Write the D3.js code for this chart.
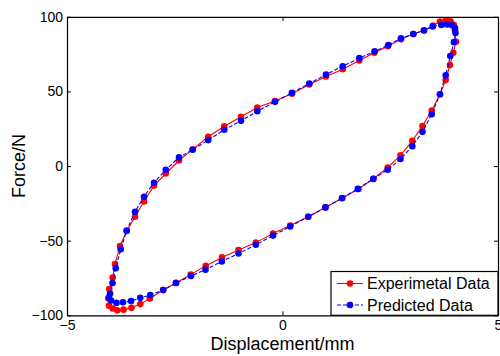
<!DOCTYPE html>
<html>
<head>
<meta charset="utf-8">
<script src="https://cdn.jsdelivr.net/npm/d3@7"></script>
<style>
  html, body { margin: 0; padding: 0; background: #fff; }
  svg { display: block; font-family: Arial, "Liberation Sans", sans-serif; }
</style>
</head>
<body>
<svg id="chart" width="500" height="356"></svg>
<script>
// Hysteresis loop: measured force vs displacement, and the model prediction
const expDisp = [-3.833, -3.940, -4.026, -4.042, -4.019, -3.940, -3.886, -3.770, -3.615, -3.422,
  -3.213, -2.981, -2.708, -2.401, -2.084, -1.724, -1.350, -0.963, -0.585, -0.174,
  0.220, 0.622, 1.009, 1.397, 1.782, 2.130, 2.443, 2.749, 3.035, 3.283,
  3.492, 3.654, 3.794, 3.898, 3.974, 4.002, 4.026, 3.963, 3.886, 3.787,
  3.654, 3.462, 3.248, 3.012, 2.738, 2.441, 2.111, 1.763, 1.385, 0.993,
  0.596, 0.179, -0.220, -0.619, -1.021, -1.404, -1.782, -2.128, -2.471, -2.768,
  -3.079, -3.299, -3.503, -3.689];
const expForce = [-96.7, -95.4, -93.6, -88.7, -82.4, -74.7, -65.7, -53.6, -43.6, -34.0,
  -23.7, -13.1, -5.0, 3.7, 11.2, 19.6, 26.7, 33.0, 39.2, 43.6,
  48.5, 54.6, 60.0, 64.9, 70.7, 75.9, 80.3, 84.9, 88.5, 91.0,
  94.2, 96.9, 97.7, 97.0, 94.6, 91.0, 83.3, 75.9, 67.7, 57.6,
  48.1, 37.2, 26.8, 16.9, 7.2, -1.0, -8.5, -15.4, -21.6, -27.7,
  -34.0, -39.9, -45.2, -51.3, -56.3, -61.2, -66.9, -72.7, -78.3, -83.0,
  -88.7, -92.5, -95.0, -96.2];

const predDisp = [-3.852, -3.979, -4.026, -4.002, -3.944, -3.870, -3.754, -3.615, -3.422, -3.213,
  -2.981, -2.708, -2.401, -2.084, -1.724, -1.350, -0.963, -0.585, -0.174, 0.220,
  0.622, 1.009, 1.397, 1.782, 2.139, 2.455, 2.749, 3.035, 3.283, 3.485,
  3.684, 3.817, 3.933, 4.002, 4.014, 3.979, 3.893, 3.787, 3.654, 3.462,
  3.248, 3.012, 2.738, 2.441, 2.107, 1.747, 1.381, 0.998, 0.596, 0.179,
  -0.220, -0.619, -1.021, -1.408, -1.787, -2.123, -2.471, -2.768, -3.067, -3.299,
  -3.515, -3.701];
const predForce = [-91.7, -90.1, -88.1, -85.5, -78.4, -68.4, -55.8, -43.2, -30.6, -20.6,
  -11.2, -2.5, 5.8, 10.9, 17.4, 24.3, 30.3, 36.7, 43.0, 49.1,
  55.3, 61.3, 66.9, 72.3, 76.9, 81.0, 85.6, 88.5, 90.8, 93.5,
  94.5, 94.8, 94.3, 92.4, 89.1, 83.0, 73.7, 60.8, 48.1, 34.7,
  22.9, 13.3, 4.7, -2.5, -8.6, -15.3, -21.4, -27.7, -34.0, -40.5,
  -46.6, -52.7, -58.6, -63.9, -69.4, -73.7, -78.4, -83.1, -86.5, -88.3,
  -90.5, -91.3];

const xTicks = [-5, 0, 5];
const yTicks = [-100, -50, 0, 50, 100];
const seriesNames = ["Experimetal Data", "Predicted Data"];
const xTitle = "Displacement/mm";
const yTitle = "Force/N";

const svg = d3.select("#chart");
const plot = { left: 67, right: 498, top: 16.8, bottom: 315.3 };

const x = d3.scaleLinear().domain([-5, 5]).range([plot.left, plot.right]);
const y = d3.scaleLinear().domain([-100, 100]).range([plot.bottom, plot.top]);

const series = [
  { name: seriesNames[0], xs: expDisp, ys: expForce, color: "#ff0000", dash: null },
  { name: seriesNames[1], xs: predDisp, ys: predForce, color: "#0000ff", dash: "4,2" }
];

// curves (closed loops)
const line = d3.line().x(d => x(d[0])).y(d => y(d[1])).curve(d3.curveLinearClosed);
series.forEach(s => {
  const pts = s.xs.map((v, i) => [v, s.ys[i]]);
  const g = svg.append("g");
  g.append("path")
    .attr("d", line(pts))
    .attr("fill", "none")
    .attr("stroke", s.color)
    .attr("stroke-width", 1.1)
    .attr("stroke-dasharray", s.dash);
  g.selectAll("circle").data(pts).join("circle")
    .attr("cx", d => x(d[0]))
    .attr("cy", d => y(d[1]))
    .attr("r", 3.3)
    .attr("fill", s.color);
});

// axes box with inward ticks
const tickFont = 14;
const axB = d3.axisBottom(x).tickValues(xTicks).tickSizeInner(-4).tickSizeOuter(0).tickPadding(5).tickFormat(d3.format("d"));
const axT = d3.axisTop(x).tickValues(xTicks).tickSizeInner(-4).tickSizeOuter(0).tickFormat("");
const axL = d3.axisLeft(y).tickValues(yTicks).tickSizeInner(-4).tickSizeOuter(0).tickPadding(4).tickFormat(d3.format("d"));
const axR = d3.axisRight(y).tickValues(yTicks).tickSizeInner(-4).tickSizeOuter(0).tickFormat("");

function styleAxis(g) {
  g.selectAll("path.domain").attr("stroke", "#000").attr("stroke-width", 1.2);
  g.selectAll(".tick line").attr("stroke", "#000").attr("stroke-width", 1);
  g.selectAll(".tick text").attr("fill", "#000").style("font-size", tickFont + "px")
    .style("font-family", "Arial, 'Liberation Sans', sans-serif");
}
svg.append("g").attr("transform", `translate(0,${plot.bottom})`).call(axB).call(styleAxis);
svg.append("g").attr("transform", `translate(0,${plot.top})`).call(axT).call(styleAxis);
svg.append("g").attr("transform", `translate(${plot.left},0)`).call(axL).call(styleAxis);
svg.append("g").attr("transform", `translate(${plot.right},0)`).call(axR).call(styleAxis);

// axis titles
svg.append("text")
  .attr("x", (plot.left + plot.right) / 2)
  .attr("y", 350)
  .attr("text-anchor", "middle")
  .style("font-size", "18px")
  .text(xTitle);
svg.append("text")
  .attr("transform", `translate(25,${(plot.top + plot.bottom) / 2}) rotate(-90)`)
  .attr("text-anchor", "middle")
  .style("font-size", "18px")
  .text(yTitle);

// legend
const lg = svg.append("g");
const lgBox = { x0: 331, y0: 271.5, x1: 498, y1: 315.3 };
lg.append("rect")
  .attr("x", lgBox.x0).attr("y", lgBox.y0)
  .attr("width", lgBox.x1 - lgBox.x0).attr("height", lgBox.y1 - lgBox.y0)
  .attr("fill", "#fff").attr("stroke", "#000").attr("stroke-width", 1.2);
series.forEach((s, i) => {
  const cy = 283.5 + i * 21.5;
  lg.append("line")
    .attr("x1", 337).attr("x2", 363).attr("y1", cy).attr("y2", cy)
    .attr("stroke", s.color).attr("stroke-width", 1.1)
    .attr("stroke-dasharray", s.dash);
  lg.append("circle").attr("cx", 350).attr("cy", cy).attr("r", 3.3).attr("fill", s.color);
  lg.append("text")
    .attr("x", 367).attr("y", cy).attr("dy", "0.36em")
    .style("font-size", "16px")
    .text(s.name);
});
</script>
</body>
</html>
